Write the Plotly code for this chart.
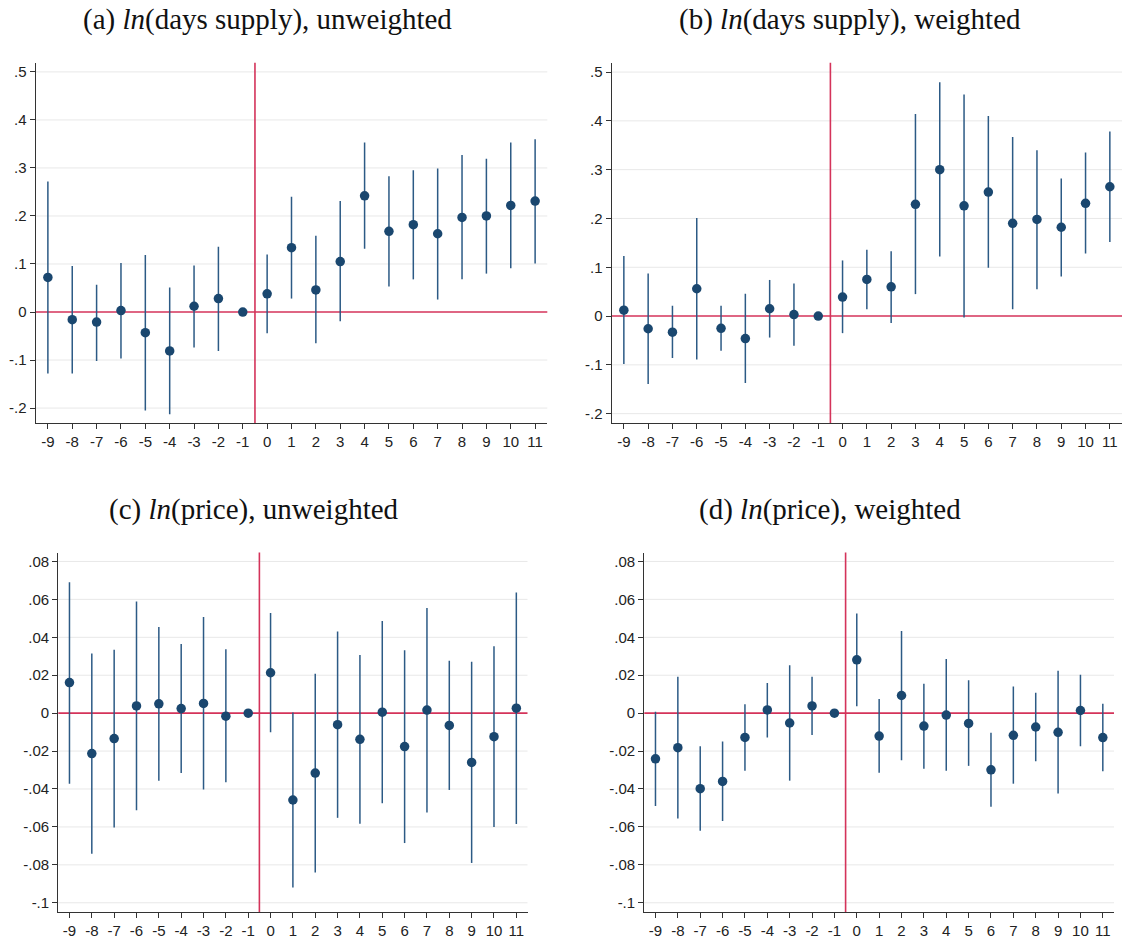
import plotly.graph_objects as go

periods = list(range(-9, 12))

# (a) ln(days supply), unweighted
a_est = [0.072, -0.016, -0.021, 0.003, -0.043, -0.081, 0.012, 0.028, 0.0, 0.038, 0.134,
         0.046, 0.105, 0.242, 0.168, 0.182, 0.163, 0.197, 0.200, 0.222, 0.231]
a_hi = [0.272, 0.096, 0.057, 0.102, 0.119, 0.051, 0.097, 0.136, 0.0, 0.120, 0.240,
        0.159, 0.231, 0.353, 0.283, 0.295, 0.299, 0.327, 0.319, 0.353, 0.360]
a_lo = [-0.128, -0.128, -0.102, -0.097, -0.205, -0.213, -0.074, -0.081, 0.0, -0.044, 0.028,
        -0.065, -0.019, 0.132, 0.053, 0.068, 0.026, 0.068, 0.080, 0.091, 0.101]

# (b) ln(days supply), weighted
b_est = [0.012, -0.026, -0.033, 0.056, -0.025, -0.046, 0.015, 0.003, 0.0, 0.039, 0.075,
         0.060, 0.229, 0.300, 0.226, 0.254, 0.190, 0.198, 0.182, 0.231, 0.265]
b_hi = [0.123, 0.087, 0.021, 0.201, 0.021, 0.046, 0.074, 0.067, 0.0, 0.114, 0.136,
        0.133, 0.414, 0.479, 0.454, 0.410, 0.367, 0.340, 0.282, 0.335, 0.378]
b_lo = [-0.098, -0.139, -0.086, -0.089, -0.071, -0.137, -0.044, -0.061, 0.0, -0.035, 0.014,
        -0.014, 0.045, 0.122, -0.003, 0.099, 0.014, 0.055, 0.081, 0.128, 0.152]

# (c) ln(price), unweighted
c_est = [0.0161, -0.0213, -0.0134, 0.0038, 0.0049, 0.0024, 0.0051, -0.0016, 0.0, 0.0213, -0.0458,
         -0.0316, -0.0061, -0.0138, 0.0005, -0.0176, 0.0016, -0.0065, -0.0260, -0.0124, 0.0026]
c_hi = [0.0690, 0.0314, 0.0334, 0.0589, 0.0454, 0.0365, 0.0507, 0.0337, 0.0, 0.0528, 0.0003,
        0.0208, 0.0430, 0.0307, 0.0486, 0.0332, 0.0554, 0.0276, 0.0271, 0.0353, 0.0636]
c_lo = [-0.0372, -0.0742, -0.0603, -0.0512, -0.0356, -0.0316, -0.0403, -0.0365, 0.0, -0.0101, -0.0919,
        -0.0840, -0.0552, -0.0583, -0.0475, -0.0685, -0.0524, -0.0405, -0.0790, -0.0601, -0.0585]

# (d) ln(price), weighted
d_est = [-0.0241, -0.0182, -0.0398, -0.0360, -0.0128, 0.0017, -0.0052, 0.0038, 0.0, 0.0281, -0.0121,
         0.0093, -0.0068, -0.0010, -0.0054, -0.0299, -0.0117, -0.0073, -0.0101, 0.0014, -0.0129]
d_hi = [0.0007, 0.0192, -0.0175, -0.0150, 0.0047, 0.0159, 0.0252, 0.0192, 0.0, 0.0526, 0.0075,
        0.0433, 0.0155, 0.0286, 0.0173, -0.0103, 0.0140, 0.0107, 0.0224, 0.0203, 0.0049]
d_lo = [-0.0489, -0.0555, -0.0620, -0.0569, -0.0304, -0.0128, -0.0356, -0.0115, 0.0, 0.0037, -0.0314,
        -0.0248, -0.0293, -0.0304, -0.0278, -0.0493, -0.0372, -0.0253, -0.0424, -0.0175, -0.0307]

titles = ["(a) <i>ln</i>(days supply), unweighted",
          "(b) <i>ln</i>(days supply), weighted",
          "(c) <i>ln</i>(price), unweighted",
          "(d) <i>ln</i>(price), weighted"]

ds_tickvals = [0.5, 0.4, 0.3, 0.2, 0.1, 0.0, -0.1, -0.2]
ds_ticktext = [".5", ".4", ".3", ".2", ".1", "0", "-.1", "-.2"]
pr_tickvals = [0.08, 0.06, 0.04, 0.02, 0.0, -0.02, -0.04, -0.06, -0.08, -0.1]
pr_ticktext = [".08", ".06", ".04", ".02", "0", "-.02", "-.04", "-.06", "-.08", "-.1"]

W, H = 1122, 939
# pixel boxes of each plot area: (left, right, top, bottom)
boxes = [(35.7, 547.3, 63.0, 424.3),
         (611.7, 1122.0, 63.0, 424.3),
         (58.3, 527.5, 554.3, 915.0),
         (644.3, 1114.0, 554.3, 915.0)]
yranges = [[-0.231, 0.519], [-0.219, 0.519], [-0.1049, 0.0847], [-0.1049, 0.0847]]
title_pos = [(267, 20), (850, 20), (254, 511), (830, 511)]

series = [(a_est, a_hi, a_lo), (b_est, b_hi, b_lo), (c_est, c_hi, c_lo), (d_est, d_hi, d_lo)]

NAVY = "#1a476f"
SPIKE = "#2c5a85"
RED = "#d4335a"
GRID = "#e8e8e8"
TICKFONT = dict(family="Liberation Sans, Arial, sans-serif", size=15, color="#222")

fig = go.Figure()
layout = dict(width=W, height=H, margin=dict(l=0, r=0, t=0, b=0),
              paper_bgcolor="white", plot_bgcolor="white", showlegend=False)
shapes = []
annotations = []

for i, (est, hi, lo) in enumerate(series):
    n = "" if i == 0 else str(i + 1)
    xa, ya = "x" + n, "y" + n
    up = [h - e for h, e in zip(hi, est)]
    dn = [e - l for e, l in zip(est, lo)]
    fig.add_trace(go.Scatter(
        x=periods, y=est, mode="markers", xaxis=xa, yaxis=ya, cliponaxis=False,
        marker=dict(color=NAVY, size=9.5),
        error_y=dict(type="data", array=up, arrayminus=dn, symmetric=False,
                     width=0, thickness=1.5, color=SPIKE),
        hoverinfo="x+y"))
    l, r, t, b = boxes[i]
    tv, tt = (ds_tickvals, ds_ticktext) if i < 2 else (pr_tickvals, pr_ticktext)
    layout["xaxis" + n] = dict(
        domain=[l / W, r / W], anchor=ya, range=[-9.5, 11.5],
        tickmode="array", tickvals=periods, ticktext=[str(p) for p in periods],
        ticks="outside", ticklen=5, tickwidth=1, tickcolor="#333",
        showline=True, linecolor="#333", linewidth=1.3, showgrid=False, zeroline=False,
        tickfont=TICKFONT)
    layout["yaxis" + n] = dict(
        domain=[1 - b / H, 1 - t / H], anchor=xa, range=yranges[i],
        tickmode="array", tickvals=tv, ticktext=tt,
        ticks="outside", ticklen=5, tickwidth=1, tickcolor="#333",
        showline=True, linecolor="#333", linewidth=1.3,
        showgrid=False, zeroline=False,
        tickfont=TICKFONT)
    # gridlines as shapes (below everything), at the tick values
    for v in tv:
        if v != 0:
            shapes.append(dict(type="line", xref=xa + " domain", yref=ya, x0=0, x1=1, y0=v, y1=v,
                               line=dict(color=GRID, width=1), layer="below"))
    # reference lines
    shapes.append(dict(type="line", xref=xa + " domain", yref=ya, x0=0, x1=1, y0=0, y1=0,
                       line=dict(color=RED, width=1.6), layer="below"))
    shapes.append(dict(type="line", xref=xa, yref=ya + " domain", x0=-0.5, x1=-0.5, y0=0, y1=1,
                       line=dict(color=RED, width=1.6), layer="below"))
    tx, ty = title_pos[i]
    annotations.append(dict(text=titles[i], x=tx / W, y=1 - ty / H, xref="paper", yref="paper",
                            xanchor="center", yanchor="middle", showarrow=False,
                            font=dict(family="Liberation Serif, DejaVu Serif, serif", size=29,
                                      color="#111")))

layout["shapes"] = shapes
layout["annotations"] = annotations
fig.update_layout(**layout)
fig.write_html("out.html", config={"displayModeBar": False},
               post_script="document.body.style.margin='0px';document.body.style.padding='0px';"
                           "document.documentElement.style.overflow='hidden';")
